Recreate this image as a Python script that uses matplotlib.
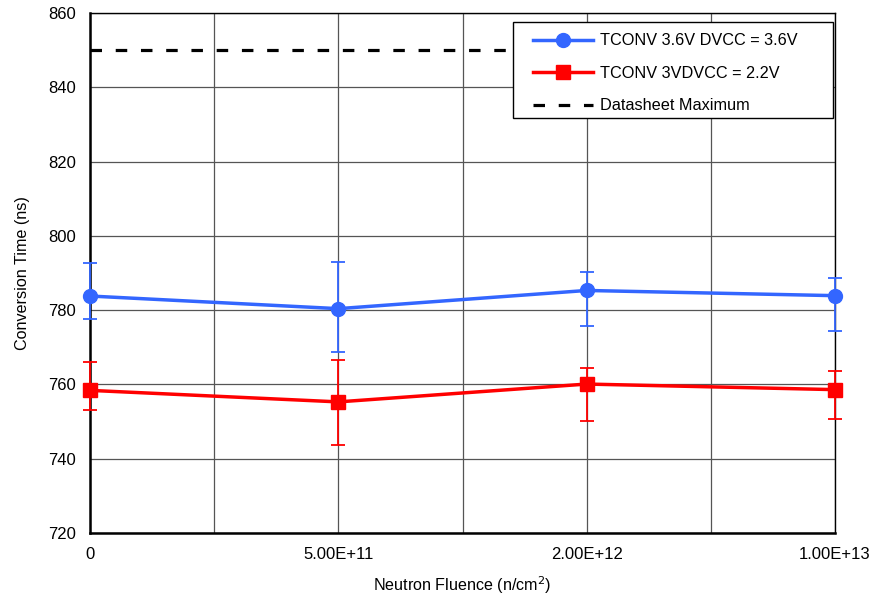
import matplotlib
matplotlib.use("Agg")
import matplotlib.pyplot as plt
from matplotlib.lines import Line2D
from matplotlib.patches import Rectangle
import numpy as np

plt.rcParams['font.family'] = ['Liberation Sans', 'DejaVu Sans']

categories = ["0", "5.00E+11", "2.00E+12", "1.00E+13"]
blue_vals = [783.8, 780.4, 785.3, 783.9]
blue_hi = [792.8, 793.0, 790.2, 788.7]
blue_lo = [777.5, 768.8, 775.8, 774.5]
red_vals = [758.4, 755.3, 760.1, 758.6]
red_hi = [766.0, 766.6, 764.3, 763.6]
red_lo = [753.1, 743.8, 750.1, 750.6]
datasheet_max = 850

fig = plt.figure(figsize=(8.72, 5.97), dpi=100)
ax = fig.add_axes([90/872, 1-533/597, (835-90)/872, (533-13)/597])

x = np.arange(len(categories))
blue = '#3366ff'
red = '#ff0000'
dash = (0, (3.6, 4.3))

bv = np.array(blue_vals); rv = np.array(red_vals)
ax.errorbar(x, bv, yerr=[bv-np.array(blue_lo), np.array(blue_hi)-bv], color=blue,
            marker='o', markersize=10, linewidth=2.5, elinewidth=1.3, capsize=5, capthick=1.3,
            zorder=4, clip_on=False)
ax.errorbar(x, rv, yerr=[rv-np.array(red_lo), np.array(red_hi)-rv], color=red,
            marker='s', markersize=10, linewidth=2.5, elinewidth=1.3, capsize=5, capthick=1.3,
            zorder=4, clip_on=False)
ax.plot([0, 3], [datasheet_max]*2, color='black', linestyle=dash, linewidth=2.3, zorder=3)

ax.set_xlim(0, 3)
ax.set_ylim(720, 860)
ax.set_xticks(x)
ax.set_xticklabels(categories, fontsize=12)
ax.set_xticks(np.arange(0, 3.01, 0.5), minor=True)
ax.set_yticks(np.arange(720, 861, 20))
ax.tick_params(axis='y', labelsize=12, length=0, pad=10)
ax.tick_params(axis='x', which='both', length=0, pad=10)
ax.grid(True, which='both', axis='x', color='#555555', linewidth=0.9)
ax.grid(True, which='major', axis='y', color='#555555', linewidth=0.9)
ax.set_axisbelow(True)
for s in ax.spines.values():
    s.set_color('black')
    s.set_linewidth(1.0)
ax.spines['left'].set_linewidth(1.8)
ax.spines['bottom'].set_linewidth(1.8)

ax.set_xlabel('Neutron Fluence (n/cm$^2$)', fontsize=11.6, labelpad=9)
ax.set_ylabel('Conversion Time (ns)', fontsize=11.6, labelpad=13)

# legend frame
box = Rectangle((0.5678, 0.798), 0.9973 - 0.5678, 0.9827 - 0.798, transform=ax.transAxes,
                facecolor='white', edgecolor='black', linewidth=1.0, zorder=5)
ax.add_patch(box)

handles = [
    Line2D([], [], color=blue, marker='o', markersize=10, linewidth=2.5),
    Line2D([], [], color=red, marker='s', markersize=10, linewidth=2.5),
    Line2D([], [], color='black', linestyle=dash, linewidth=2.3),
]
labels = ['TCONV 3.6V DVCC = 3.6V', 'TCONV 3VDVCC = 2.2V', 'Datasheet Maximum']
leg = ax.legend(handles, labels, loc='upper left', bbox_to_anchor=(0.5946, 0.961), fontsize=11.7,
                frameon=False, handlelength=3.7, borderpad=0, borderaxespad=0,
                labelspacing=1.08, handletextpad=0.43)
leg.set_zorder(6)

fig.savefig('out.png', dpi=100)
